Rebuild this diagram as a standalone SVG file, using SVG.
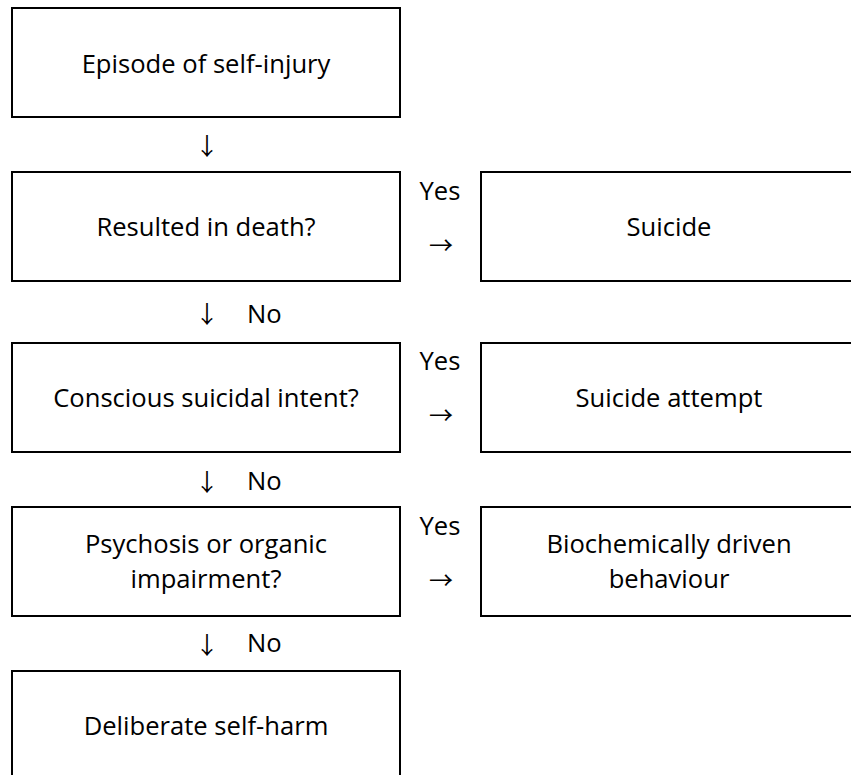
<svg xmlns="http://www.w3.org/2000/svg" width="851" height="775" viewBox="0 0 851 775">
  <style>
    .box { fill: #ffffff; stroke: #000000; stroke-width: 2; }
    .t { font-family: "Open Sans", "Liberation Sans", sans-serif; font-size: 25.6px; fill: #000000; text-anchor: middle; }
    .lbl { font-family: "Open Sans", "Liberation Sans", sans-serif; font-size: 25.6px; fill: #000000; }
    .arr { font-family: "Noto Sans CJK SC", "DejaVu Sans", sans-serif; font-size: 24px; fill: #000000; text-anchor: middle; }
  </style>
  <rect x="0" y="0" width="851" height="775" fill="#ffffff"/>

  <g id="episode">
    <rect class="box" x="12" y="8" width="388" height="109"/>
    <text class="t" x="206" y="73">Episode of self-injury</text>
  </g>
  <g id="death">
    <rect class="box" x="12" y="172" width="388" height="109"/>
    <text class="t" x="206" y="236">Resulted in death?</text>
  </g>
  <g id="suicide">
    <rect class="box" x="481" y="172" width="376" height="109"/>
    <text class="t" x="669" y="236">Suicide</text>
  </g>
  <g id="intent">
    <rect class="box" x="12" y="343" width="388" height="109"/>
    <text class="t" x="206" y="407">Conscious suicidal intent?</text>
  </g>
  <g id="attempt">
    <rect class="box" x="481" y="343" width="376" height="109"/>
    <text class="t" x="669" y="407">Suicide attempt</text>
  </g>
  <g id="psychosis">
    <rect class="box" x="12" y="507" width="388" height="109"/>
    <text class="t" x="206" y="553">Psychosis or organic</text>
    <text class="t" x="206" y="588">impairment?</text>
  </g>
  <g id="biochemical">
    <rect class="box" x="481" y="507" width="376" height="109"/>
    <text class="t" x="669" y="553">Biochemically driven</text>
    <text class="t" x="669" y="588">behaviour</text>
  </g>
  <g id="dsh">
    <rect class="box" x="12" y="671" width="388" height="109"/>
    <text class="t" x="206" y="735">Deliberate self-harm</text>
  </g>

  <g id="connectors">
    <text class="arr" x="207" y="155">↓</text>
    <text class="arr" x="207" y="323">↓</text>
    <text class="lbl" x="247" y="323">No</text>
    <text class="arr" x="207" y="491">↓</text>
    <text class="lbl" x="247" y="490">No</text>
    <text class="arr" x="207" y="654">↓</text>
    <text class="lbl" x="247" y="652">No</text>

    <text class="t" x="440" y="200">Yes</text>
    <text class="arr" x="441" y="254">→</text>
    <text class="t" x="440" y="370">Yes</text>
    <text class="arr" x="441" y="424">→</text>
    <text class="t" x="440" y="535">Yes</text>
    <text class="arr" x="441" y="589">→</text>
  </g>
</svg>
